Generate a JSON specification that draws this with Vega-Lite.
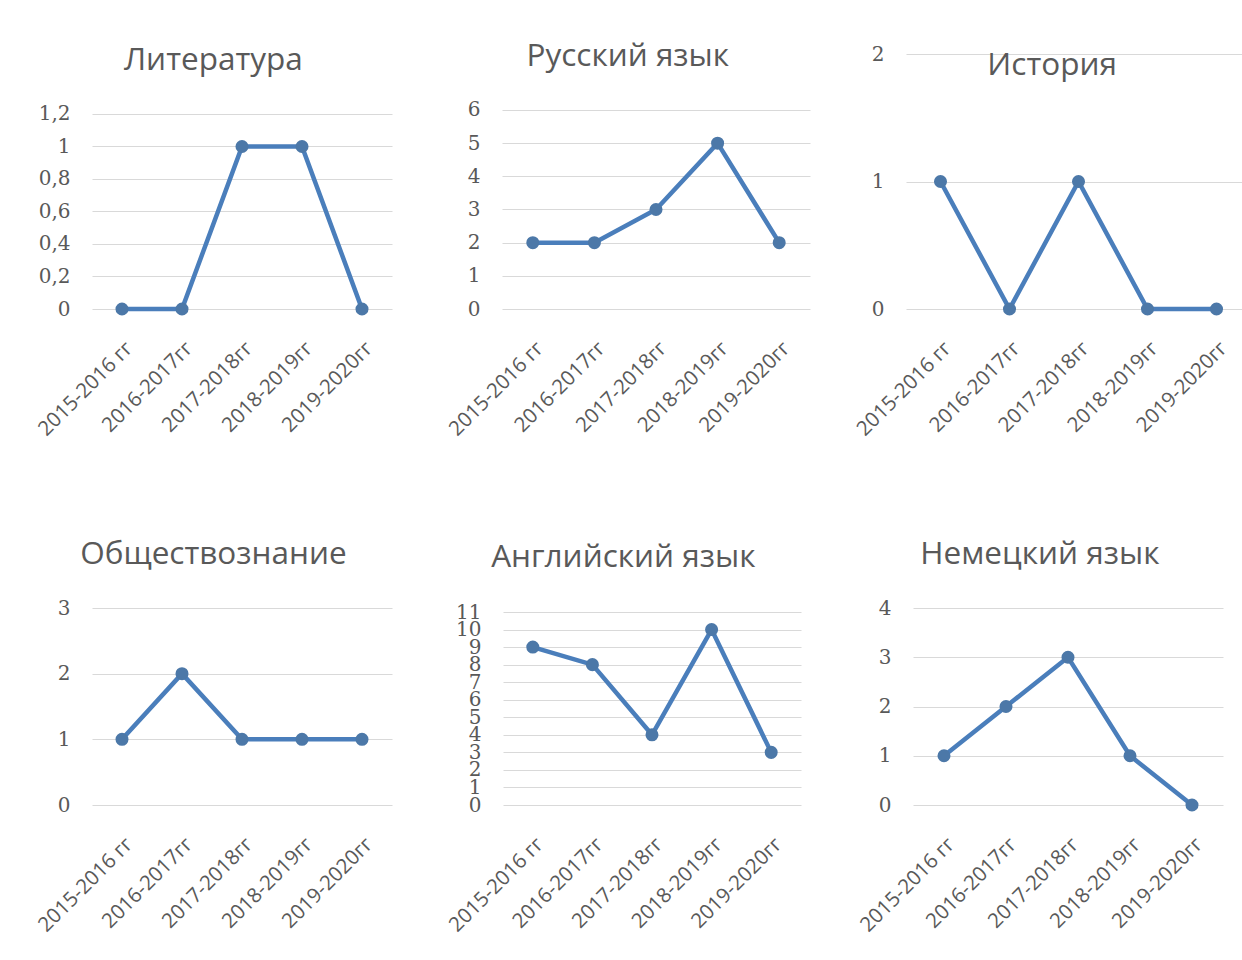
{
  "$schema": "https://vega.github.io/schema/vega-lite/v6.json",
  "background": "white",
  "padding": {"left": 34, "top": 40, "right": 0, "bottom": 0},
  "data": {"values": [
    {"subject": "Литература", "period": "2015-2016 гг", "value": 0},
    {"subject": "Литература", "period": "2016-2017гг", "value": 0},
    {"subject": "Литература", "period": "2017-2018гг", "value": 1},
    {"subject": "Литература", "period": "2018-2019гг", "value": 1},
    {"subject": "Литература", "period": "2019-2020гг", "value": 0},
    {"subject": "Русский язык", "period": "2015-2016 гг", "value": 2},
    {"subject": "Русский язык", "period": "2016-2017гг", "value": 2},
    {"subject": "Русский язык", "period": "2017-2018гг", "value": 3},
    {"subject": "Русский язык", "period": "2018-2019гг", "value": 5},
    {"subject": "Русский язык", "period": "2019-2020гг", "value": 2},
    {"subject": "История", "period": "2015-2016 гг", "value": 1},
    {"subject": "История", "period": "2016-2017гг", "value": 0},
    {"subject": "История", "period": "2017-2018гг", "value": 1},
    {"subject": "История", "period": "2018-2019гг", "value": 0},
    {"subject": "История", "period": "2019-2020гг", "value": 0},
    {"subject": "Обществознание", "period": "2015-2016 гг", "value": 1},
    {"subject": "Обществознание", "period": "2016-2017гг", "value": 2},
    {"subject": "Обществознание", "period": "2017-2018гг", "value": 1},
    {"subject": "Обществознание", "period": "2018-2019гг", "value": 1},
    {"subject": "Обществознание", "period": "2019-2020гг", "value": 1},
    {"subject": "Английский язык", "period": "2015-2016 гг", "value": 9},
    {"subject": "Английский язык", "period": "2016-2017гг", "value": 8},
    {"subject": "Английский язык", "period": "2017-2018гг", "value": 4},
    {"subject": "Английский язык", "period": "2018-2019гг", "value": 10},
    {"subject": "Английский язык", "period": "2019-2020гг", "value": 3},
    {"subject": "Немецкий язык", "period": "2015-2016 гг", "value": 1},
    {"subject": "Немецкий язык", "period": "2016-2017гг", "value": 2},
    {"subject": "Немецкий язык", "period": "2017-2018гг", "value": 3},
    {"subject": "Немецкий язык", "period": "2018-2019гг", "value": 1},
    {"subject": "Немецкий язык", "period": "2019-2020гг", "value": 0}
  ]},
  "bounds": "flush",
  "spacing": 554,
  "vconcat": [
    {
      "bounds": "flush",
      "spacing": 110,
      "hconcat": [
        {
          "width": 300, "height": 255,
          "title": {"text": "Литература", "offset": -22},
          "transform": [{"filter": "datum.subject == 'Литература'"}],
          "mark": {"type": "line", "point": {"filled": true, "size": 170}, "strokeWidth": 4.5, "color": "#4a7ebb"},
          "encoding": {
            "x": {"field": "period", "type": "nominal", "sort": null, "scale": {"type": "point", "padding": 0.5}, "axis": {}},
            "y": {"field": "value", "type": "quantitative", "scale": {"domain": [0, 1.5692], "nice": false, "zero": true},
                  "axis": {"values": [0, 0.2, 0.4, 0.6, 0.8, 1, 1.2], "labelExpr": "replace(format(datum.value, '~g'), '.', ',')"}}
          }
        },
        {
          "bounds": "flush",
          "spacing": 96,
          "hconcat": [
            {
              "width": 308, "height": 255,
              "title": {"text": "Русский язык", "offset": -18},
              "transform": [{"filter": "datum.subject == 'Русский язык'"}],
              "mark": {"type": "line", "point": {"filled": true, "size": 170}, "strokeWidth": 4.5, "color": "#4a7ebb"},
              "encoding": {
                "x": {"field": "period", "type": "nominal", "sort": null, "scale": {"type": "point", "padding": 0.5}, "axis": {}},
                "y": {"field": "value", "type": "quantitative", "scale": {"domain": [0, 7.688], "nice": false},
                      "axis": {"values": [0, 1, 2, 3, 4, 5, 6], "format": "~g"}}
              }
            },
            {
              "width": 345, "height": 255,
              "title": {"text": "История", "offset": -37},
              "transform": [{"filter": "datum.subject == 'История'"}],
              "mark": {"type": "line", "point": {"filled": true, "size": 170}, "strokeWidth": 4.5, "color": "#4a7ebb"},
              "encoding": {
                "x": {"field": "period", "type": "nominal", "sort": null, "scale": {"type": "point", "padding": 0.5}, "axis": {}},
                "y": {"field": "value", "type": "quantitative", "scale": {"domain": [0, 2], "nice": false},
                      "axis": {"values": [0, 1, 2], "format": "~g"}}
              }
            }
          ]
        }
      ]
    },
    {
      "bounds": "flush",
      "spacing": 111,
      "hconcat": [
        {
          "width": 300, "height": 197,
          "title": {"text": "Обществознание", "offset": 28},
          "transform": [{"filter": "datum.subject == 'Обществознание'"}],
          "mark": {"type": "line", "point": {"filled": true, "size": 170}, "strokeWidth": 4.5, "color": "#4a7ebb"},
          "encoding": {
            "x": {"field": "period", "type": "nominal", "sort": null, "scale": {"type": "point", "padding": 0.5}, "axis": {}},
            "y": {"field": "value", "type": "quantitative", "scale": {"domain": [0, 3], "nice": false},
                  "axis": {"values": [0, 1, 2, 3], "format": "~g"}}
          }
        },
        {
          "bounds": "flush",
          "spacing": 112,
          "hconcat": [
            {
              "width": 298, "height": 197,
              "title": {"text": "Английский язык", "offset": 29},
              "transform": [{"filter": "datum.subject == 'Английский язык'"}],
              "mark": {"type": "line", "point": {"filled": true, "size": 170}, "strokeWidth": 4.5, "color": "#4a7ebb"},
              "encoding": {
                "x": {"field": "period", "type": "nominal", "sort": null, "scale": {"type": "point", "padding": 0.5}, "axis": {}},
                "y": {"field": "value", "type": "quantitative", "scale": {"domain": [0, 11.228], "nice": false},
                      "axis": {"values": [0, 1, 2, 3, 4, 5, 6, 7, 8, 9, 10, 11], "format": "~g"}}
              }
            },
            {
              "width": 310, "height": 197,
              "title": {"text": "Немецкий язык", "offset": 28},
              "transform": [{"filter": "datum.subject == 'Немецкий язык'"}],
              "mark": {"type": "line", "point": {"filled": true, "size": 170}, "strokeWidth": 4.5, "color": "#4a7ebb"},
              "encoding": {
                "x": {"field": "period", "type": "nominal", "sort": null, "scale": {"type": "point", "padding": 0.5}, "axis": {}},
                "y": {"field": "value", "type": "quantitative", "scale": {"domain": [0, 4], "nice": false},
                      "axis": {"values": [0, 1, 2, 3, 4], "format": "~g"}}
              }
            }
          ]
        }
      ]
    }
  ],
  "config": {
    "view": {"stroke": null},
    "title": {"font": "Open Sans", "fontSize": 31.5, "fontWeight": "normal", "color": "#595959", "anchor": "middle", "frame": "bounds"},
    "axisY": {"labelFont": "DejaVu Serif", "labelFontSize": 20, "labelColor": "#595959", "domain": false, "ticks": false, "gridColor": "#d9d9d9", "gridWidth": 1, "title": null, "labelPadding": 22, "labelOverlap": false},
    "axisX": {"labelAngle": -45, "labelFont": "Open Sans", "labelFontSize": 20.5, "labelColor": "#595959", "domain": false, "ticks": false, "grid": false, "title": null, "labelPadding": 29, "labelOverlap": false}
  }
}
